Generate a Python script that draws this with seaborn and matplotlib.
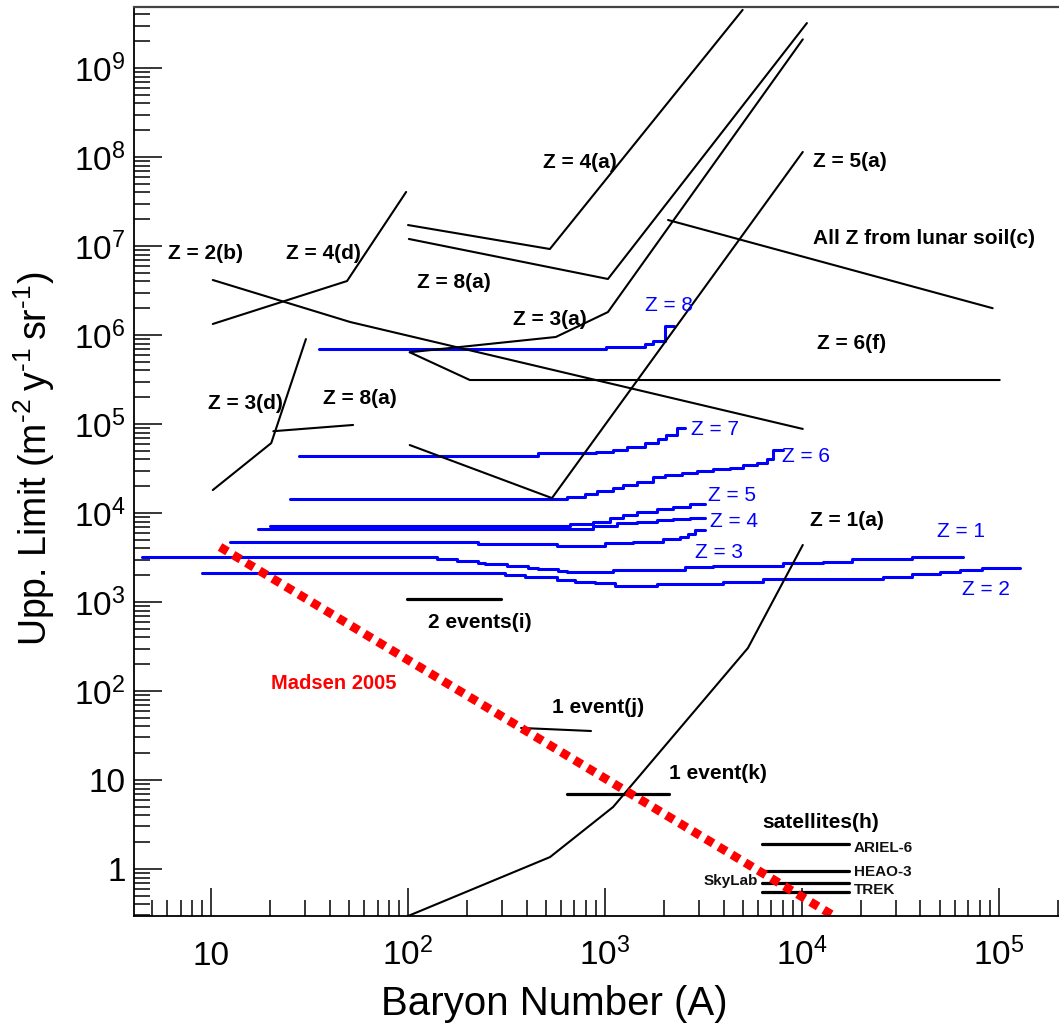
import matplotlib
matplotlib.use("Agg")
import matplotlib.pyplot as plt
import seaborn as sns
from matplotlib.ticker import FixedLocator, FixedFormatter, LogLocator, NullFormatter

# ---------------- data ----------------
# blue step curves: baryon number A (step starts) and upper limit
z1_A = [4.47, 140, 177, 227, 246, 318, 407, 457, 577, 641, 1100, 2550, 3530, 8010, 12800, 17900, 36200, 65600]
z1_Y = [3205, 3040, 2890, 2743, 2673, 2537, 2410, 2348, 2230, 2173, 2290, 2470, 2537, 2743, 2812, 3040, 3205, 3205]
z2_A = [9.0, 310, 393, 570, 705, 889, 1124, 1837, 3970, 6340, 25700, 36200, 50200, 63400, 82000, 128000]
z2_Y = [2118, 2011, 1910, 1766, 1678, 1634, 1513, 1592, 1678, 1811, 1910, 2065, 2173, 2290, 2410, 2410]
z3_A = [12.5, 227, 570, 1000, 1387, 1968, 2403, 2637, 2864, 3222]
z3_Y = [4720, 4485, 4256, 4600, 4720, 5100, 5370, 5810, 6440, 6440]
z4_A = [17.3, 869, 1150, 1453, 1837, 2214, 2700, 3222]
z4_Y = [6610, 7140, 7720, 7920, 8340, 8560, 8780, 8780]
z5_A = [19.9, 664, 869, 1060, 1234, 1453, 1837, 2214, 2700, 3222]
z5_Y = [7140, 7520, 7920, 8780, 9500, 10260, 11100, 11700, 12600, 12600]
z6_A = [25.2, 641, 791, 910, 1100, 1234, 1453, 1753, 2017, 2460, 2931, 3533, 4313, 5020, 5910, 6640, 7130, 8010]
z6_Y = [1.44e4, 1.51e4, 1.63e4, 1.77e4, 1.91e4, 2.06e4, 2.23e4, 2.54e4, 2.67e4, 2.81e4, 2.96e4, 3.12e4,
        3.2e4, 3.46e4, 3.65e4, 4.04e4, 5.1e4, 5.1e4]
z7_A = [28, 457, 900, 1100, 1294, 1600, 1860, 2050, 2318, 2545]
z7_Y = [4.37e4, 4.72e4, 4.85e4, 5.1e4, 5.52e4, 6.1e4, 6.8e4, 7.5e4, 9.0e4, 9.0e4]
z8_A = [35.3, 1010, 1600, 1750, 2020, 2240]
z8_Y = [6.96e5, 7.33e5, 7.9e5, 8.6e5, 1.26e6, 1.26e6]

# black limit curves
z4a_A = [100, 525, 5000]
z4a_Y = [1.72e7, 9.25e6, 4.5e9]
z8a_up_A = [101, 1035, 10600]
z8a_up_Y = [1.2e7, 4.26e6, 3.2e9]
z3a_A = [102, 563, 1035, 10100]
z3a_Y = [6.4e5, 9.5e5, 1.81e6, 2.1e9]
z6f_A = [102, 206, 101000]
z6f_Y = [6.4e5, 3.12e5, 3.12e5]
z5a_A = [102, 538, 10100]
z5a_Y = [5.8e4, 1.47e4, 1.14e8]
lunar_A = [2090, 93000]
lunar_Y = [1.96e7, 2.0e6]
z2b_A = [10.2, 50.8, 10100]
z2b_Y = [4.15e6, 1.4e6, 8.8e4]
z4d_A = [10.2, 49, 97.8]
z4d_Y = [1.33e6, 4.04e6, 4.05e7]
z3d_A = [10.2, 20.2, 30.3]
z3d_Y = [1.81e4, 6.1e4, 9.0e5]
z8a_lo_A = [20.7, 52.6]
z8a_lo_Y = [8.3e4, 9.75e4]
z1a_A = [100, 526, 1100, 5320, 10100]
z1a_Y = [0.296, 1.36, 4.97, 304, 4370]

# event / satellite limits
ev_i_A = [99, 296]
ev_i_Y = [1080, 1080]
ev_j_A = [375, 849]
ev_j_Y = [38.4, 35.5]
ev_k_A = [641, 2110]
ev_k_Y = [6.96, 6.96]
sat_A = [6270, 17300]
ariel_Y = [1.91, 1.91]
heao_Y = [0.95, 0.95]
skylab_Y = [0.70, 0.70]
trek_Y = [0.55, 0.55]

madsen_A = [11.1, 14400]
madsen_Y = [4150, 0.30]

x_ticks = [10, 1e2, 1e3, 1e4, 1e5]
x_tick_labels = ["10", r"$\mathregular{10^{2}}$", r"$\mathregular{10^{3}}$",
                 r"$\mathregular{10^{4}}$", r"$\mathregular{10^{5}}$"]
y_ticks = [1, 10, 1e2, 1e3, 1e4, 1e5, 1e6, 1e7, 1e8, 1e9]
y_tick_labels = ["1", "10"] + [r"$\mathregular{10^{%d}}$" % k for k in range(2, 10)]

# ---------------- style ----------------
sns.set_style("white")
plt.rcParams["font.family"] = ["Liberation Sans", "DejaVu Sans"]
plt.rcParams["mathtext.fontset"] = "custom"
plt.rcParams["mathtext.rm"] = "Liberation Sans"
plt.rcParams["mathtext.it"] = "Liberation Sans:italic"
plt.rcParams["mathtext.bf"] = "Liberation Sans:bold"
plt.rcParams["text.color"] = "black"
plt.rcParams["axes.labelcolor"] = "black"
plt.rcParams["xtick.color"] = "black"
plt.rcParams["ytick.color"] = "black"

fig = plt.figure(figsize=(10.59, 10.26), dpi=100)
ax = fig.add_axes([134 / 1059, 1 - 916 / 1026, 1 - 134 / 1059, (916 - 7) / 1026])
ax.set_xscale("log")
ax.set_yscale("log")

BLUE = "#0000ff"
RED = "#ff0000"


def line(xs, ys, color="black", lw=1.5, **kw):
    sns.lineplot(x=xs, y=ys, ax=ax, color=color, linewidth=lw, estimator=None,
                 sort=False, legend=False, **kw)


for xs, ys in [(z1_A, z1_Y), (z2_A, z2_Y), (z3_A, z3_Y), (z4_A, z4_Y), (z5_A, z5_Y),
               (z6_A, z6_Y), (z7_A, z7_Y), (z8_A, z8_Y)]:
    line(xs, ys, color=BLUE, lw=2.2, drawstyle="steps-post")

for xs, ys in [(z4a_A, z4a_Y), (z8a_up_A, z8a_up_Y), (z3a_A, z3a_Y), (z6f_A, z6f_Y),
               (z5a_A, z5a_Y), (lunar_A, lunar_Y), (z2b_A, z2b_Y), (z4d_A, z4d_Y),
               (z3d_A, z3d_Y), (z8a_lo_A, z8a_lo_Y), (z1a_A, z1a_Y), (ev_j_A, ev_j_Y)]:
    line(xs, ys, lw=1.5)

for xs, ys in [(ev_i_A, ev_i_Y), (ev_k_A, ev_k_Y), (sat_A, ariel_Y), (sat_A, heao_Y),
               (sat_A, skylab_Y), (sat_A, trek_Y)]:
    line(xs, ys, lw=2.3)

line(madsen_A, madsen_Y, color=RED, lw=6.3, linestyle=(0, (1.0, 0.75)),
     dash_capstyle="butt")

ax.set_xlim(4.06, 2.02e5)
ax.set_ylim(0.296, 4.85e9)

# ---------------- axes ----------------
ax.xaxis.set_major_locator(FixedLocator(x_ticks))
ax.xaxis.set_major_formatter(FixedFormatter(x_tick_labels))
ax.yaxis.set_major_locator(FixedLocator(y_ticks))
ax.yaxis.set_major_formatter(FixedFormatter(y_tick_labels))
ax.xaxis.set_minor_locator(LogLocator(base=10, subs=range(2, 10), numticks=50))
ax.yaxis.set_minor_locator(LogLocator(base=10, subs=range(2, 10), numticks=50))
ax.xaxis.set_minor_formatter(NullFormatter())
ax.yaxis.set_minor_formatter(NullFormatter())
ax.tick_params(which="both", direction="in", left=True, bottom=True, top=False, right=False,
               width=1.1, color="black", labelcolor="black")
ax.tick_params(which="major", length=20, labelsize=24)
ax.tick_params(axis="y", which="major", pad=6)
ax.tick_params(axis="x", which="major", pad=35)
ax.tick_params(which="minor", length=11.5)
for lab in ax.get_xticklabels():
    lab.set_verticalalignment("baseline")

ax.spines["right"].set_visible(False)
for s in ["left", "bottom"]:
    ax.spines[s].set_linewidth(1.3)
    ax.spines[s].set_color("black")
ax.spines["top"].set_linewidth(1.6)
ax.spines["top"].set_color("#444444")
ax.grid(False)

fig.text(554 / 1059, 1 - 1015 / 1026, "Baryon Number (A)", ha="center", va="baseline",
         fontsize=29, color="black")
fig.text(34 / 1059, 1 - 459 / 1026,
         "Upp. Limit (m$^{\\mathregular{\u20102}}$\u2009y$^{\\mathregular{\u20101}}$\u2009"
         "sr$^{\\mathregular{\u20101}}$)",
         ha="center", va="center", rotation=90, fontsize=27, color="black")

# ---------------- annotations ----------------
black_labels = [
    ("Z = 4(a)", 484, 8.6e7), ("Z = 5(a)", 11380, 9.0e7),
    ("All Z from lunar soil(c)", 11380, 1.23e7), ("Z = 6(f)", 11900, 8.13e5),
    ("Z = 2(b)", 6.05, 8.34e6), ("Z = 4(d)", 24.0, 8.34e6), ("Z = 8(a)", 111, 3.84e6),
    ("Z = 3(a)", 341, 1.51e6), ("Z = 3(d)", 9.66, 1.72e5), ("Z = 8(a)", 37.1, 1.91e5),
    ("Z = 1(a)", 11000, 8130), ("2 events(i)", 126, 581), ("1 event(j)", 538, 66),
    ("1 event(k)", 2113, 11.7), ("satellites(h)", 6265, 3.29),
]
for t, x, y in black_labels:
    ax.text(x, y, t, ha="left", va="center", fontsize=15, fontweight="bold", color="black")

for t, x, y in [("ARIEL-6", 18200, 1.72), ("HEAO-3", 18300, 0.925), ("TREK", 18300, 0.58)]:
    ax.text(x, y, t, ha="left", va="center", fontsize=11, fontweight="bold", color="#111111")
ax.text(5985, 0.733, "SkyLab", ha="right", va="center", fontsize=11, fontweight="bold",
        color="#111111")

blue_labels = [
    ("Z = 8", 1596, 2.12e6), ("Z = 7", 2735, 8.57e4), ("Z = 6", 7900, 4.26e4),
    ("Z = 5", 3335, 1.59e4), ("Z = 4", 3413, 7.92e3), ("Z = 3", 2866, 3554),
    ("Z = 1", 48400, 6120), ("Z = 2", 64900, 1364),
]
for t, x, y in blue_labels:
    ax.text(x, y, t, ha="left", va="center", fontsize=15, color=BLUE)

ax.text(20.2, 120, "Madsen 2005", ha="left", va="center", fontsize=14.5, fontweight="bold",
        color=RED)

fig.savefig("out.png", dpi=100)
